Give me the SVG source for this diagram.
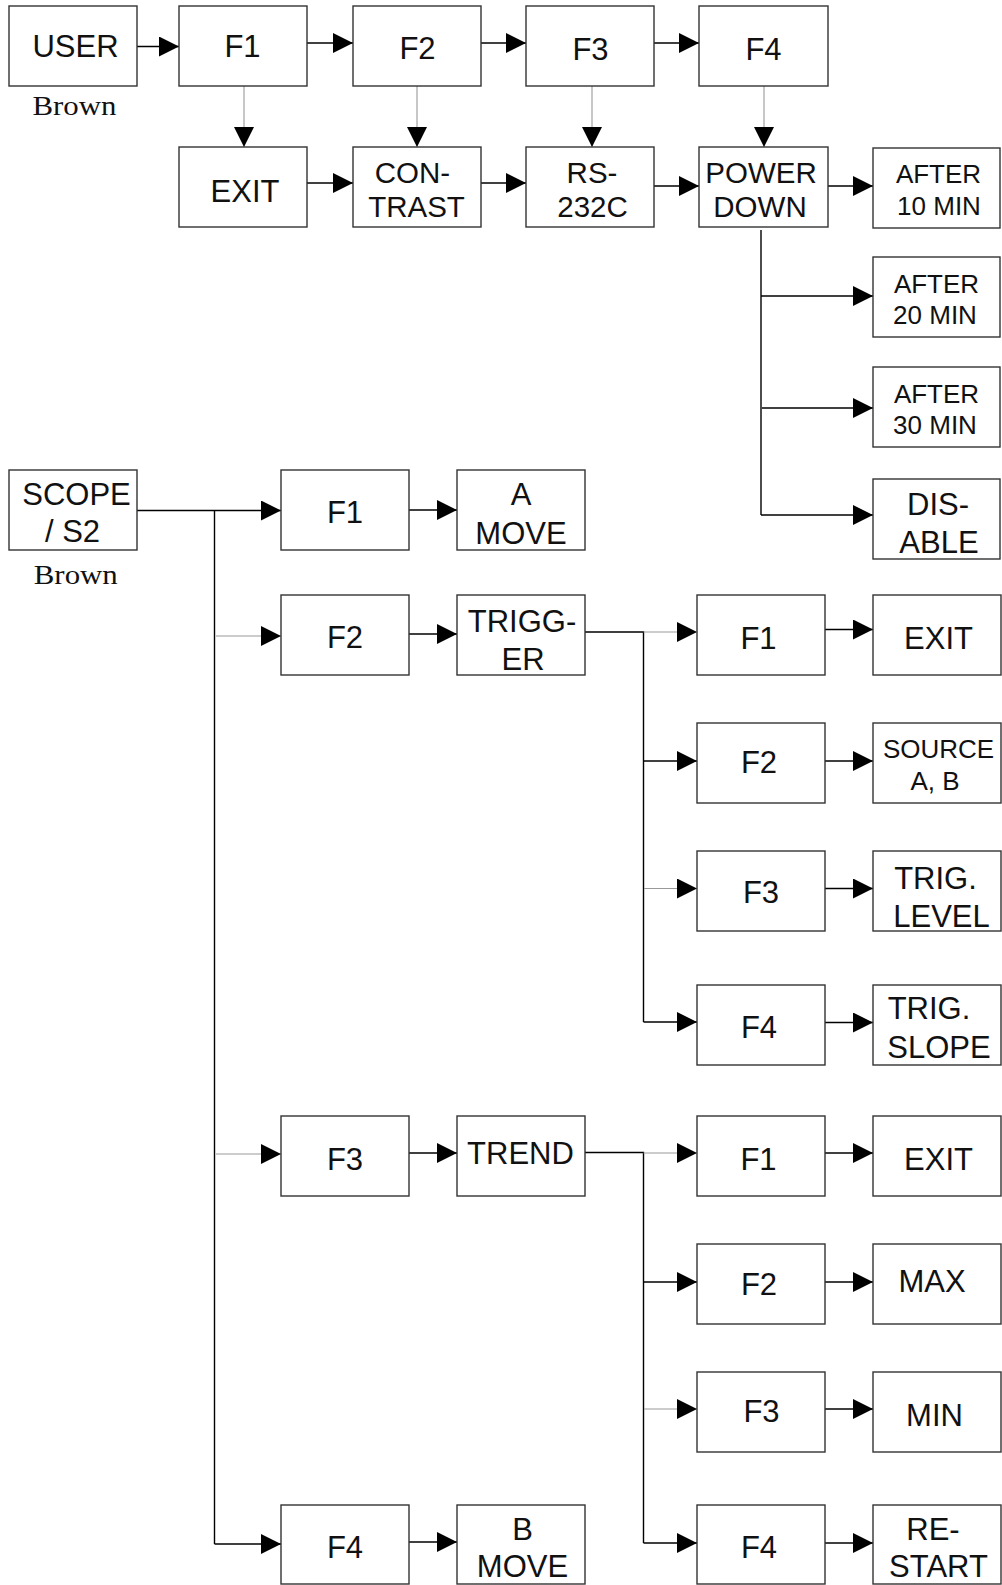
<svg xmlns="http://www.w3.org/2000/svg" width="1002" height="1585" viewBox="0 0 1002 1585">
<defs>
<marker id="ah" markerUnits="userSpaceOnUse" viewBox="0 0 20 20" refX="20" refY="10" markerWidth="20" markerHeight="20" orient="auto">
<path d="M0,0 L20,10 L0,20 z" fill="#000"/>
</marker>
<style>
rect{fill:#fff;stroke:#333;stroke-width:1.4}
text{font-family:"Liberation Sans",Arial,sans-serif;font-size:31px;fill:#111;text-anchor:middle}
text.s{font-size:26px}
text.m{font-size:29.5px}
text.b{font-family:"Liberation Serif","Times New Roman",serif;font-size:28px}
.c line,.c path{stroke:#000;stroke-width:1.4;fill:none}
.c .g{stroke:#999;stroke-width:1.1}
</style>
</defs>
<rect x="0" y="0" width="1002" height="1585" style="fill:#fff;stroke:none"/>

<g class="c" id="connectors">
<!-- top row -->
<line x1="137" y1="46.5" x2="179" y2="46.5" marker-end="url(#ah)"/>
<line x1="307" y1="43" x2="353" y2="43" marker-end="url(#ah)"/>
<line x1="481" y1="43" x2="526" y2="43" marker-end="url(#ah)"/>
<line x1="654" y1="43" x2="699" y2="43" marker-end="url(#ah)"/>
<line class="g" x1="244" y1="86" x2="244" y2="147" marker-end="url(#ah)"/>
<line class="g" x1="417" y1="86" x2="417" y2="147" marker-end="url(#ah)"/>
<line class="g" x1="592" y1="86" x2="592" y2="147" marker-end="url(#ah)"/>
<line class="g" x1="764" y1="86" x2="764" y2="147" marker-end="url(#ah)"/>
<line x1="307" y1="183" x2="353" y2="183" marker-end="url(#ah)"/>
<line x1="481" y1="183" x2="526" y2="183" marker-end="url(#ah)"/>
<line x1="654" y1="186" x2="699" y2="186" marker-end="url(#ah)"/>
<line x1="828" y1="186" x2="873" y2="186" marker-end="url(#ah)"/>
<line x1="761" y1="230" x2="761" y2="515"/>
<line x1="761" y1="296" x2="873" y2="296" marker-end="url(#ah)"/>
<line x1="762" y1="408" x2="873" y2="408" marker-end="url(#ah)"/>
<line x1="761" y1="515" x2="873" y2="515" marker-end="url(#ah)"/>
<!-- scope -->
<line x1="137" y1="510.5" x2="281" y2="510.5" marker-end="url(#ah)"/>
<line x1="214.5" y1="510.5" x2="214.5" y2="1544"/>
<line x1="409" y1="510" x2="457" y2="510" marker-end="url(#ah)"/>
<line class="g" x1="216" y1="636" x2="281" y2="636" marker-end="url(#ah)"/>
<line x1="409" y1="634" x2="457" y2="634" marker-end="url(#ah)"/>
<line class="g" x1="216" y1="1154" x2="281" y2="1154" marker-end="url(#ah)"/>
<line x1="409" y1="1153" x2="457" y2="1153" marker-end="url(#ah)"/>
<line x1="214.5" y1="1544" x2="281" y2="1544" marker-end="url(#ah)"/>
<line x1="409" y1="1542" x2="457" y2="1542" marker-end="url(#ah)"/>
<!-- trigger -->
<path d="M585,632 H643.5 V1022"/>
<line class="g" x1="643.5" y1="632" x2="697" y2="632" marker-end="url(#ah)"/>
<line x1="825" y1="629.5" x2="873" y2="629.5" marker-end="url(#ah)"/>
<line x1="643.5" y1="761" x2="697" y2="761" marker-end="url(#ah)"/>
<line x1="825" y1="761" x2="873" y2="761" marker-end="url(#ah)"/>
<line class="g" x1="644" y1="888.5" x2="697" y2="888.5" marker-end="url(#ah)"/>
<line x1="825" y1="888.5" x2="873" y2="888.5" marker-end="url(#ah)"/>
<line x1="643.5" y1="1022" x2="697" y2="1022" marker-end="url(#ah)"/>
<line x1="825" y1="1022.5" x2="873" y2="1022.5" marker-end="url(#ah)"/>
<!-- trend -->
<path d="M585,1152.5 H643.5 V1543"/>
<line class="g" x1="643.5" y1="1153" x2="697" y2="1153" marker-end="url(#ah)"/>
<line x1="825" y1="1153" x2="873" y2="1153" marker-end="url(#ah)"/>
<line x1="643.5" y1="1282" x2="697" y2="1282" marker-end="url(#ah)"/>
<line x1="825" y1="1282" x2="873" y2="1282" marker-end="url(#ah)"/>
<line class="g" x1="644" y1="1409" x2="697" y2="1409" marker-end="url(#ah)"/>
<line x1="825" y1="1409" x2="873" y2="1409" marker-end="url(#ah)"/>
<line x1="643.5" y1="1543" x2="697" y2="1543" marker-end="url(#ah)"/>
<line x1="825" y1="1543" x2="873" y2="1543" marker-end="url(#ah)"/>
</g>

<!-- top rows -->
<g id="user"><rect x="9" y="6" width="128" height="80"/><text x="75.5" y="57">USER</text><text class="b" x="74.5" y="115" textLength="84" lengthAdjust="spacingAndGlyphs">Brown</text></g>
<g id="u-f1"><rect x="179" y="6" width="128" height="80"/><text x="242.5" y="57">F1</text></g>
<g id="u-f2"><rect x="353" y="6" width="128" height="80"/><text x="417.5" y="59">F2</text></g>
<g id="u-f3"><rect x="526" y="6" width="128" height="80"/><text x="590.5" y="60">F3</text></g>
<g id="u-f4"><rect x="699" y="6" width="129" height="80"/><text x="763.5" y="60">F4</text></g>
<g id="u-exit"><rect x="179" y="147" width="128" height="80"/><text x="245" y="201.5">EXIT</text></g>
<g id="contrast"><rect x="353" y="147" width="128" height="80"/><text class="m" x="412.5" y="182.5">CON-</text><text class="m" x="416.5" y="217">TRAST</text></g>
<g id="rs232c"><rect x="526" y="147" width="128" height="80"/><text class="m" x="592" y="183">RS-</text><text class="m" x="592.5" y="217">232C</text></g>
<g id="powerdown"><rect x="699" y="147" width="129" height="80"/><text class="m" x="761" y="183">POWER</text><text class="m" x="760" y="217">DOWN</text></g>
<g id="after10"><rect x="873" y="148" width="127" height="80"/><text class="s" x="938.5" y="183">AFTER</text><text class="s" x="939" y="215">10 MIN</text></g>
<g id="after20"><rect x="873" y="257" width="127" height="80"/><text class="s" x="936.5" y="293">AFTER</text><text class="s" x="935" y="324">20 MIN</text></g>
<g id="after30"><rect x="873" y="367" width="127" height="80"/><text class="s" x="936.5" y="403">AFTER</text><text class="s" x="935" y="434">30 MIN</text></g>
<g id="disable"><rect x="873" y="479" width="127" height="80"/><text x="938" y="515">DIS-</text><text x="939" y="553">ABLE</text></g>

<!-- scope -->
<g id="scope"><rect x="9" y="470" width="128" height="80"/><text x="76.5" y="505">SCOPE</text><text x="72.5" y="541.5">/ S2</text><text class="b" x="75.8" y="584" textLength="84" lengthAdjust="spacingAndGlyphs">Brown</text></g>
<g id="s-f1"><rect x="281" y="470" width="128" height="80"/><text x="345" y="523">F1</text></g>
<g id="amove"><rect x="457" y="470" width="128" height="80"/><text x="521" y="505">A</text><text x="521" y="544">MOVE</text></g>
<g id="s-f2"><rect x="281" y="595" width="128" height="80"/><text x="345" y="648">F2</text></g>
<g id="trigger"><rect x="457" y="595" width="128" height="80"/><text x="522" y="632">TRIGG-</text><text x="523" y="670">ER</text></g>
<g id="t-f1"><rect x="697" y="595" width="128" height="80"/><text x="758.5" y="649">F1</text></g>
<g id="t-exit"><rect x="873" y="595" width="128" height="80"/><text x="938.5" y="649">EXIT</text></g>
<g id="t-f2"><rect x="697" y="723" width="128" height="80"/><text x="759" y="773">F2</text></g>
<g id="source"><rect x="873" y="723" width="128" height="80"/><text class="s" x="938.5" y="757.5">SOURCE</text><text class="s" x="935" y="790">A, B</text></g>
<g id="t-f3"><rect x="697" y="851" width="128" height="80"/><text x="761" y="903">F3</text></g>
<g id="triglevel"><rect x="873" y="851" width="128" height="80"/><text x="935.5" y="889">TRIG.</text><text x="941.5" y="926.5">LEVEL</text></g>
<g id="t-f4"><rect x="697" y="985" width="128" height="80"/><text x="759" y="1038">F4</text></g>
<g id="trigslope"><rect x="873" y="985" width="128" height="80"/><text x="929" y="1019">TRIG.</text><text x="939" y="1058">SLOPE</text></g>
<g id="s-f3"><rect x="281" y="1116" width="128" height="80"/><text x="345" y="1170">F3</text></g>
<g id="trend"><rect x="457" y="1116" width="128" height="80"/><text x="520.5" y="1164">TREND</text></g>
<g id="r-f1"><rect x="697" y="1116" width="128" height="80"/><text x="758.5" y="1170">F1</text></g>
<g id="r-exit"><rect x="873" y="1116" width="128" height="80"/><text x="938.5" y="1170">EXIT</text></g>
<g id="r-f2"><rect x="697" y="1244" width="128" height="80"/><text x="759" y="1295">F2</text></g>
<g id="max"><rect x="873" y="1244" width="128" height="80"/><text x="932" y="1292">MAX</text></g>
<g id="r-f3"><rect x="697" y="1372" width="128" height="80"/><text x="761.5" y="1422">F3</text></g>
<g id="min"><rect x="873" y="1372" width="128" height="80"/><text x="934.5" y="1425.5">MIN</text></g>
<g id="r-f4"><rect x="697" y="1505" width="128" height="79"/><text x="759" y="1557.5">F4</text></g>
<g id="restart"><rect x="873" y="1505" width="128" height="79"/><text x="933" y="1540">RE-</text><text x="938.5" y="1577">START</text></g>
<g id="s-f4"><rect x="281" y="1505" width="128" height="79"/><text x="345" y="1557.5">F4</text></g>
<g id="bmove"><rect x="457" y="1505" width="128" height="79"/><text x="522.5" y="1540">B</text><text x="522.5" y="1577">MOVE</text></g>
</svg>
